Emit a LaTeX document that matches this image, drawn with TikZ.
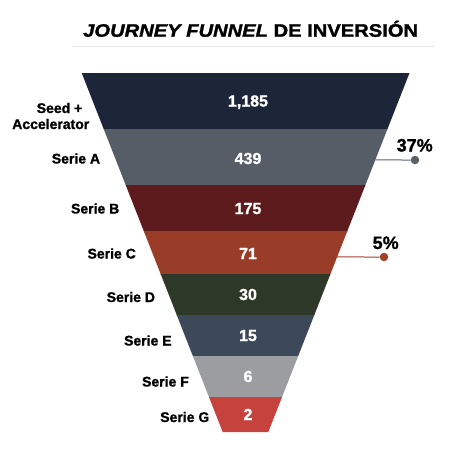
\documentclass[tikz,border=0pt]{standalone}
\usepackage{fontspec}
\setmainfont{Liberation Sans}[BoldFeatures = {FakeBold = 1.2}, BoldItalicFeatures = {FakeBold = 1.2}]
\newfontfamily\titlefont{Liberation Sans}[FakeStretch = 1.12, BoldFeatures = {FakeBold = 1.6}, BoldItalicFeatures = {FakeBold = 1.6}]
\usetikzlibrary{calc}

\definecolor{seedcol}{HTML}{1D2639}
\definecolor{sacol}{HTML}{565D66}
\definecolor{sbcol}{HTML}{5E1B1D}
\definecolor{sccol}{HTML}{993D29}
\definecolor{sdcol}{HTML}{2E3829}
\definecolor{secol}{HTML}{3D4959}
\definecolor{sfcol}{HTML}{9C9DA1}
\definecolor{sgcol}{HTML}{C6423D}
\definecolor{sharegray}{HTML}{5B6068}
\definecolor{sharered}{HTML}{A2402C}
\definecolor{rulegray}{HTML}{E6E6E6}

\tikzset{
    band label/.style = {anchor = east, align = right, font = \bfseries\fontsize{14}{16}\selectfont},
    band value/.style = {anchor = base, text = white, font = \bfseries\fontsize{16}{18}\selectfont},
    share/.style = {anchor = base west, font = \bfseries\fontsize{18}{20}\selectfont},
    share dot/.style = {circle, minimum size = 8.5pt, fill = #1},
    share line/.style = {draw = #1, line width = 1pt}
}

\begin{document}
\begin{tikzpicture}[x = 1pt, y = -1pt, every node/.style = {inner sep = 0pt}]
    \useasboundingbox (0,0) rectangle (467,451);
    % title
    \node[anchor = base west, font = \titlefont\bfseries\fontsize{18}{20}\selectfont] (title) at (83,36.7)
        {{\itshape JOURNEY FUNNEL} DE INVERSIÓN};
    \draw[rulegray, line width = 0.8pt] (72,46) -- (435,46);
    % funnel corners
    \coordinate (tl) at (81.7,73);
    \coordinate (tr) at (409.5,73);
    \coordinate (bl) at (222.7,432);
    \coordinate (br) at (268.3,432);
    % bands
    \foreach \ya/\yb/\col/\val/\vy [count = \i] in {73/129/seedcol/{1,185}/106.5, 129/185/sacol/439/164,
        185/231/sbcol/175/214, 231/274/sccol/71/259, 274/315/sdcol/30/300, 315/356/secol/15/341,
        356/397/sfcol/6/382, 397/432/sgcol/2/420}
    {
        \pgfmathsetmacro\ta{(\ya-73)/359}
        \pgfmathsetmacro\tb{min(\yb+0.6-73,359)/359}
        \fill[\col] ($(tl)!\ta!(bl)$) -- ($(tr)!\ta!(br)$) -- ($(tr)!\tb!(br)$) -- ($(tl)!\tb!(bl)$) -- cycle;
        \node[band value] (v\i) at (248,\vy) {\val};
    }
    % labels
    \foreach \lab/\lx/\ly [count = \i] in {{Seed +\kern7pt\\Accelerator}/89.5/116, {Serie A}/100.3/158.5,
        {Serie B}/119.5/208.5, {Serie C}/136/253.5, {Serie D}/155.2/297, {Serie E}/171.8/340.5,
        {Serie F}/189/381.5, {Serie G}/209.5/417}
        \node[band label] (l\i) at (\lx,\ly) {\lab};
    % shares
    \coordinate (e37) at ($(tr)!0.2423!(br)$);
    \node[share dot = sharegray] (d37) at (415,160) {};
    \draw[share line = sharegray] (e37) -- (d37);
    \node[share] (p37) at (396.5,151.5) {37\%};
    \coordinate (e5) at ($(tr)!0.5125!(br)$);
    \node[share dot = sharered] (d5) at (384,257) {};
    \draw[share line = sharered] (e5) -- (d5);
    \node[share] (p5) at (372.5,249) {5\%};
\end{tikzpicture}
\end{document}
